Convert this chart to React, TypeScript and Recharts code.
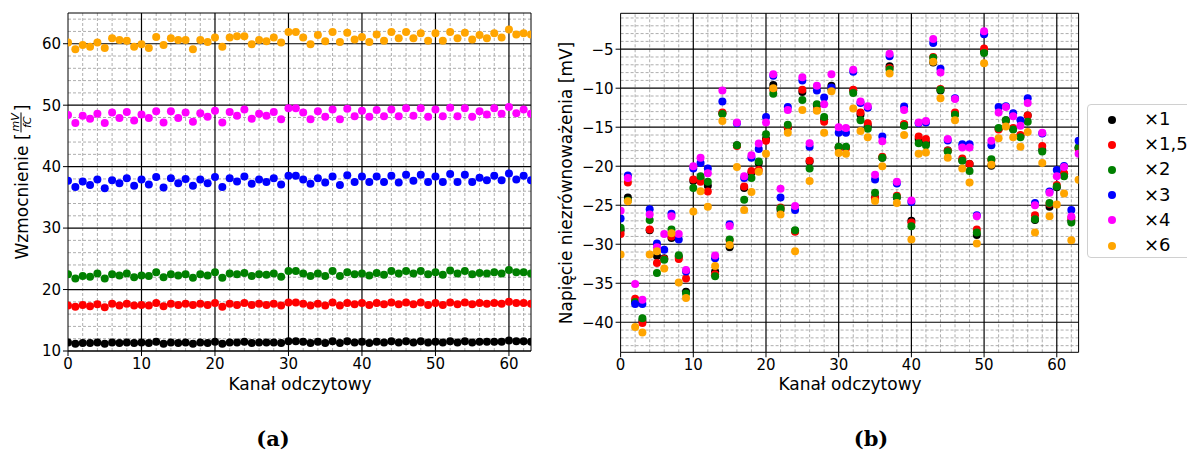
import React from "react";
import { ScatterChart, Scatter, XAxis, YAxis, ReferenceLine } from "recharts";

// --- (a) wzmocnienie, kanały 0..63 ---
const gainX1 = [11.4, 11.2, 11.3, 11.3, 11.4, 11.2, 11.4, 11.3, 11.4, 11.3, 11.4, 11.3, 11.5, 11.2, 11.4, 11.3, 11.4, 11.2, 11.4, 11.3, 11.5, 11.2, 11.4, 11.4, 11.5, 11.3, 11.4, 11.4, 11.4, 11.3, 11.6, 11.6, 11.5, 11.3, 11.5, 11.3, 11.6, 11.3, 11.6, 11.4, 11.5, 11.3, 11.5, 11.4, 11.6, 11.4, 11.6, 11.4, 11.6, 11.4, 11.5, 11.4, 11.6, 11.4, 11.6, 11.4, 11.5, 11.5, 11.5, 11.5, 11.7, 11.6, 11.6, 11.5];
const gainX15 = [17.4, 17.2, 17.5, 17.3, 17.6, 17.1, 17.7, 17.4, 17.7, 17.4, 17.5, 17.4, 17.8, 17.3, 17.7, 17.5, 17.7, 17.5, 17.7, 17.5, 17.8, 17.2, 17.7, 17.5, 17.8, 17.5, 17.7, 17.5, 17.7, 17.4, 17.9, 17.9, 17.7, 17.4, 17.7, 17.4, 17.9, 17.4, 17.8, 17.6, 17.8, 17.5, 17.8, 17.6, 17.9, 17.6, 17.9, 17.6, 17.9, 17.5, 17.8, 17.5, 17.9, 17.6, 17.9, 17.6, 17.8, 17.7, 17.8, 17.7, 18.0, 17.8, 17.8, 17.7];
const gainX2 = [22.5, 21.8, 22.2, 22.1, 22.6, 21.8, 22.5, 22.3, 22.6, 22.0, 22.3, 22.2, 22.8, 22.0, 22.5, 22.3, 22.5, 21.9, 22.5, 22.3, 22.8, 21.9, 22.6, 22.5, 22.7, 22.2, 22.5, 22.4, 22.6, 22.1, 23.0, 23.0, 22.6, 22.2, 22.6, 22.2, 23.0, 22.2, 22.8, 22.5, 22.6, 22.3, 22.7, 22.4, 23.0, 22.6, 23.0, 22.6, 23.0, 22.5, 22.8, 22.4, 23.1, 22.6, 23.0, 22.5, 22.7, 22.6, 22.8, 22.6, 23.2, 22.8, 22.8, 22.6];
const gainX3 = [37.7, 36.7, 37.6, 37.0, 37.9, 36.5, 37.8, 37.3, 38.1, 36.9, 37.9, 37.1, 38.3, 36.6, 38.1, 37.3, 38.0, 36.9, 37.9, 37.3, 38.3, 36.7, 38.1, 37.6, 38.4, 37.2, 37.9, 37.5, 38.1, 37.1, 38.5, 38.5, 37.9, 37.2, 38.1, 37.4, 38.4, 37.0, 38.6, 37.5, 38.4, 37.5, 38.4, 37.5, 38.5, 37.4, 38.7, 37.7, 38.7, 37.5, 38.4, 37.5, 38.8, 37.5, 38.7, 37.5, 38.2, 37.8, 38.5, 37.8, 38.9, 37.9, 38.5, 37.8];
const gainX4 = [48.4, 47.1, 48.3, 47.8, 48.6, 47.1, 48.8, 47.9, 48.9, 47.5, 48.5, 47.9, 49.0, 47.2, 49.0, 47.9, 48.8, 47.3, 48.7, 48.1, 49.1, 47.2, 48.9, 48.3, 49.3, 47.8, 48.6, 48.3, 48.9, 47.7, 49.5, 49.5, 48.8, 47.7, 49.0, 48.1, 49.3, 47.7, 49.4, 48.2, 49.1, 48.1, 49.2, 48.2, 49.3, 48.2, 49.5, 48.3, 49.5, 48.1, 49.3, 48.2, 49.6, 48.2, 49.5, 48.1, 49.0, 48.5, 49.5, 48.6, 49.7, 48.7, 49.3, 48.6];
const gainX6 = [60.2, 59.1, 59.8, 59.5, 60.2, 59.3, 60.9, 60.6, 60.5, 59.5, 59.9, 59.3, 61.1, 59.8, 60.9, 60.6, 60.6, 59.1, 60.6, 60.3, 61.0, 59.5, 61.0, 61.2, 61.2, 59.9, 60.6, 60.4, 61.0, 60.2, 61.9, 61.9, 61.0, 59.9, 61.4, 60.4, 61.9, 60.3, 61.8, 60.7, 61.1, 60.3, 61.5, 60.5, 61.9, 60.9, 61.9, 60.9, 61.7, 60.5, 61.7, 60.5, 61.9, 60.9, 61.8, 60.7, 61.4, 60.9, 61.7, 61.0, 62.3, 61.5, 61.7, 61.5];

// --- (b) napięcie niezrównoważenia [mV] ---
const offX1 = [-28.2, -24.0, -37.35, -39.8, -28.2, -31.5, -31.8, -29.2, -31.6, -36.1, -21.9, -21.6, -22.5, -33.5, -13.2, -30.4, -17.3, -22.8, -20.8, -19.6, -16.5, -9.6, -25.6, -15.1, -28.3, -10.5, -19.4, -12.2, -14.0, -9.7, -17.6, -17.6, -10.3, -13.4, -14.8, -24.0, -18.9, -7.2, -24.0, -14.7, -27.0, -16.5, -17.0, -6.7, -10.3, -18.0, -13.3, -19.2, -19.7, -28.8, -5.3, -19.95, -15.2, -14.1, -15.2, -16.1, -13.5, -26.9, -17.9, -25.2, -22.7, -21.0, -27.0, -17.6];
const offX15 = [-28.7, -22.1, -37.0, -40.1, -28.1, -32.4, -31.9, -29.0, -31.9, -34.4, -21.7, -22.0, -23.25, -33.85, -13.1, -29.5, -17.4, -22.6, -20.6, -20.5, -16.75, -10.2, -25.3, -15.0, -28.4, -10.2, -19.3, -12.8, -14.3, -10.0, -17.6, -17.7, -10.2, -13.1, -14.5, -24.1, -18.8, -7.4, -23.8, -14.6, -27.2, -16.2, -16.5, -6.0, -10.1, -18.0, -13.1, -19.0, -19.7, -28.1, -4.9, -19.2, -15.3, -14.2, -15.1, -16.0, -13.5, -26.3, -17.4, -24.8, -22.4, -20.9, -26.6, -17.8];
const offX2 = [-27.9, -24.4, -37.4, -39.5, -26.9, -33.7, -32.0, -28.1, -31.4, -36.3, -22.8, -21.3, -22.0, -34.1, -13.3, -29.4, -17.3, -24.3, -21.5, -19.4, -15.9, -10.7, -25.4, -14.7, -28.2, -11.5, -20.3, -12.05, -13.7, -10.1, -17.5, -17.5, -10.6, -14.1, -15.2, -23.4, -18.9, -7.6, -23.9, -14.8, -27.7, -17.05, -17.3, -6.1, -10.2, -18.1, -13.4, -19.3, -20.6, -28.5, -5.5, -19.1, -15.1, -14.1, -15.3, -16.3, -14.3, -26.8, -18.1, -24.7, -22.6, -21.3, -27.2, -17.6];
const offX3 = [-26.7, -21.2, -37.65, -37.65, -25.5, -29.9, -30.7, -26.1, -29.4, -33.5, -20.3, -19.6, -20.3, -31.8, -11.7, -27.45, -14.5, -21.5, -18.9, -17.8, -13.7, -8.4, -24.0, -12.4, -25.6, -9.0, -17.5, -10.3, -11.2, -9.9, -15.7, -15.7, -7.9, -11.9, -12.5, -21.7, -16.2, -5.9, -22.2, -12.35, -24.6, -14.5, -14.4, -4.2, -7.5, -16.7, -11.3, -17.2, -17.2, -26.3, -3.1, -17.3, -12.4, -12.3, -13.2, -14.1, -11.3, -24.7, -15.8, -23.25, -20.5, -19.96, -25.6, -16.75];
const offX4 = [-25.7, -21.5, -35.1, -37.1, -26.2, -30.4, -28.7, -26.4, -28.7, -33.3, -20.0, -18.9, -20.9, -31.45, -10.3, -27.65, -14.4, -21.3, -18.6, -17.1, -14.4, -8.2, -22.9, -12.8, -25.1, -8.6, -17.05, -9.7, -12.05, -8.2, -15.0, -15.1, -7.65, -11.7, -12.3, -21.1, -16.8, -5.6, -22.0, -12.8, -24.4, -14.4, -14.2, -3.7, -8.0, -16.5, -11.4, -17.6, -17.6, -26.4, -2.7, -16.75, -13.1, -12.4, -13.6, -14.8, -11.9, -25.0, -15.7, -23.4, -21.3, -20.1, -26.45, -18.4];
const offX6 = [-31.3, -24.5, -40.6, -41.3, -31.3, -30.9, -33.1, -28.6, -34.9, -36.9, -25.8, -23.2, -25.2, -32.8, -14.2, -30.1, -20.1, -25.6, -23.3, -20.7, -18.4, -10.0, -26.2, -15.7, -30.9, -12.8, -21.9, -12.9, -15.7, -10.4, -18.3, -18.4, -12.6, -15.5, -16.3, -24.45, -20.0, -8.1, -24.7, -16.0, -29.4, -18.4, -18.25, -6.6, -11.3, -18.9, -14.1, -20.3, -22.1, -29.9, -6.8, -19.8, -16.4, -14.9, -16.3, -17.5, -15.6, -28.5, -19.6, -26.4, -24.9, -23.5, -29.5, -21.75];

const seriesNames = ["×1", "×1,5", "×2", "×3", "×4", "×6"];
const seriesColors = ["#000000", "#ff0000", "#008000", "#0000ff", "#ff00ff", "#ffa500"];
const gainSeries = [gainX1, gainX15, gainX2, gainX3, gainX4, gainX6];
const offsetSeries = [offX1, offX15, offX2, offX3, offX4, offX6];

const xTicks = [0, 10, 20, 30, 40, 50, 60];
const gainTicks = [10, 20, 30, 40, 50, 60];
const offsetTicks = [-40, -35, -30, -25, -20, -15, -10, -5];

const FONT = "'DejaVu Sans', sans-serif";

const steps = (from: number, to: number, step: number) => {
  const out: number[] = [];
  for (let v = from; v <= to + 1e-9; v += step) out.push(Math.round(v * 100) / 100);
  return out;
};

const fmt = (v: number) => String(v).replace("-", "\u2212");

const toRows = (vals: number[]) => vals.map((v, i) => ({ ch: i, v }));

const dot = (color: string) => (p: any) => <circle cx={p.cx} cy={p.cy} r={4} fill={color} />;

const tickStyle = { fill: "#000", fontSize: 15, fontFamily: FONT };

type PanelProps = {
  series: number[][];
  yDomain: [number, number];
  yTicks: number[];
  yMinor: number[];
  width: number;
  yAxisWidth: number;
  margin: { top: number; right: number; bottom: number; left: number };
  xAxisHeight: number;
};

const Panel = ({ series, yDomain, yTicks, yMinor, width, yAxisWidth, margin, xAxisHeight }: PanelProps) => {
  const xMinor = steps(0, 62, 2).filter((v) => v % 10 !== 0);
  const yMinorOnly = yMinor.filter((v) => !yTicks.includes(v));
  return (
    <ScatterChart width={width} height={400} margin={margin}>
      <XAxis
        type="number"
        dataKey="ch"
        domain={[0, 63]}
        ticks={xTicks}
        tick={tickStyle}
        tickLine={{ stroke: "#000" }}
        axisLine={{ stroke: "#000" }}
        tickSize={5}
        height={xAxisHeight}
        allowDataOverflow
      />
      <YAxis
        type="number"
        dataKey="v"
        domain={yDomain}
        ticks={yTicks}
        tick={tickStyle}
        tickFormatter={fmt}
        tickLine={{ stroke: "#000" }}
        axisLine={{ stroke: "#000" }}
        tickSize={5}
        width={yAxisWidth}
        allowDataOverflow
      />
      {xMinor.map((v) => (
        <ReferenceLine key={"xm" + v} x={v} stroke="#999" strokeWidth={0.8} strokeDasharray="3 2" />
      ))}
      {yMinorOnly.map((v) => (
        <ReferenceLine key={"ym" + v} y={v} stroke="#999" strokeWidth={0.8} strokeDasharray="3 2" />
      ))}
      {xTicks.slice(1).map((v) => (
        <ReferenceLine key={"xM" + v} x={v} stroke="#000" strokeWidth={1.2} />
      ))}
      {yTicks.map((v) => (
        <ReferenceLine key={"yM" + v} y={v} stroke="#000" strokeWidth={1.2} />
      ))}
      <ReferenceLine x={63} stroke="#000" strokeWidth={1} />
      <ReferenceLine y={yDomain[1]} stroke="#000" strokeWidth={1} />
      {series.map((vals, k) => (
        <Scatter
          key={seriesNames[k]}
          name={seriesNames[k]}
          data={toRows(vals)}
          fill={seriesColors[k]}
          shape={dot(seriesColors[k])}
          isAnimationActive={false}
        />
      ))}
    </ScatterChart>
  );
};

const abs = (left: number, top: number, extra: React.CSSProperties = {}): React.CSSProperties => ({
  position: "absolute",
  left,
  top,
  transform: "translate(-50%, -50%)",
  whiteSpace: "nowrap",
  ...extra,
});

export default function App() {
  return (
    <div
      style={{
        position: "absolute",
        left: 0,
        top: 0,
        width: 1187,
        height: 453,
        background: "#fff",
        overflow: "hidden",
        fontFamily: FONT,
        color: "#000",
      }}
    >
      <div style={{ position: "absolute", left: 0, top: 0 }}>
        <Panel
          series={gainSeries}
          yDomain={[10, 65]}
          yTicks={gainTicks}
          yMinor={steps(12, 64, 2)}
          width={540}
          yAxisWidth={68}
          margin={{ top: 13, right: 9, bottom: 0, left: 0 }}
          xAxisHeight={49}
        />
      </div>
      <div style={{ position: "absolute", left: 540, top: 0 }}>
        <Panel
          series={offsetSeries}
          yDomain={[-43.85, -0.4]}
          yTicks={offsetTicks}
          yMinor={steps(-43, -1, 1)}
          width={548}
          yAxisWidth={80.6}
          margin={{ top: 13.3, right: 9.4, bottom: 0, left: 0 }}
          xAxisHeight={47.7}
        />
      </div>

      {/* axis labels */}
      <div style={abs(300, 384, { fontSize: 17 })}>Kanał odczytowy</div>
      <div style={abs(850, 384, { fontSize: 17 })}>Kanał odczytowy</div>
      <div style={abs(21, 182, { transform: "translate(-50%, -50%) rotate(-90deg)", fontSize: 17, display: "flex", alignItems: "center" })}>
        <span>Wzmocnienie [</span>
        <span
          style={{
            display: "inline-flex",
            flexDirection: "column",
            alignItems: "center",
            fontSize: 11,
            fontStyle: "italic",
            lineHeight: 1,
            margin: "0 1px",
          }}
        >
          <span style={{ borderBottom: "1px solid #000", padding: "0 1px" }}>mV</span>
          <span>fC</span>
        </span>
        <span>]</span>
      </div>
      <div style={abs(566, 183, { transform: "translate(-50%, -50%) rotate(-90deg)", fontSize: 17 })}>
        Napięcie niezrównoważenia [mV]
      </div>

      {/* legend */}
      <div
        style={{
          position: "absolute",
          left: 1087,
          top: 104,
          width: 120,
          height: 154,
          border: "1px solid #d0d0d0",
          borderRadius: 4,
          background: "#fff",
          boxSizing: "border-box",
        }}
      >
        {seriesNames.map((n, k) => (
          <div key={n} style={{ position: "absolute", left: 0, top: 2 + k * 25.2, height: 25, width: 120 }}>
            <span
              style={{
                position: "absolute",
                left: 20,
                top: 8.5,
                width: 8,
                height: 8,
                borderRadius: "50%",
                background: seriesColors[k],
              }}
            />
            <span style={{ position: "absolute", left: 56, top: 1, fontSize: 18, lineHeight: "22px" }}>{n}</span>
          </div>
        ))}
      </div>

      {/* subfigure captions */}
      <div style={abs(273, 438, { fontFamily: "'DejaVu Serif', serif", fontWeight: "bold", fontSize: 21 })}>(a)</div>
      <div style={abs(871, 438, { fontFamily: "'DejaVu Serif', serif", fontWeight: "bold", fontSize: 21 })}>(b)</div>
    </div>
  );
}
